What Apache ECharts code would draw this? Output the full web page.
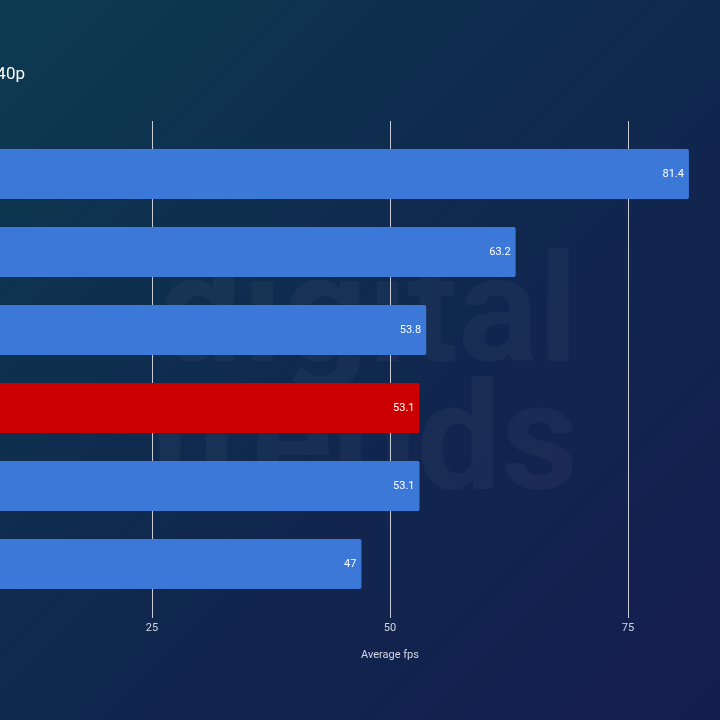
<!DOCTYPE html>
<html>
<head>
<meta charset="utf-8">
<script src="https://cdn.jsdelivr.net/npm/echarts@6/dist/echarts.min.js"></script>
<style>
html,body{margin:0;padding:0;width:720px;height:720px;overflow:hidden;}
#chart{width:720px;height:720px;}
</style>
</head>
<body>
<div id="chart"></div>
<script>
const titleText = '1440p';
const categories = ['GPU 1', 'GPU 2', 'GPU 3', 'GPU 4', 'GPU 5', 'GPU 6'];
const values = [81.4, 63.2, 53.8, 53.1, 53.1, 47];
const highlightIndex = 3;
const axisName = 'Average fps';
const xMin = 0, xMax = 100, xInterval = 25;

const chart = echarts.init(document.getElementById('chart'), null, {renderer: 'canvas'});
const font = 'Roboto, "Noto Sans", sans-serif';

chart.setOption({
  animation: false,
  backgroundColor: {
    type: 'linear', x: 0, y: 0, x2: 1, y2: 1,
    colorStops: [
      {offset: 0, color: '#0c3a50'},
      {offset: 0.5, color: '#10284e'},
      {offset: 1, color: '#151d50'}
    ]
  },
  graphic: [
    {
      type: 'text', right: 142, top: 248, z: -10, silent: true,
      style: {
        text: 'digital\ntrends',
        font: 'bold 150px Roboto, sans-serif',
        lineHeight: 128,
        fill: 'rgba(255,255,255,0.035)',
        textAlign: 'right'
      }
    },
    {
      type: 'text', x: 25, y: 66,
      style: {
        text: titleText,
        font: '17px ' + font,
        fill: '#ffffff',
        textAlign: 'right',
        textVerticalAlign: 'top'
      }
    }
  ],
  grid: [
    {left: -86, right: -146, top: 135, bottom: 117, outerBoundsMode: 'none'},
    {left: -86, right: -146, top: 121, bottom: 102, outerBoundsMode: 'none'}
  ],
  xAxis: [
    {
      type: 'value', gridIndex: 0, min: xMin, max: xMax, interval: xInterval,
      axisLine: {show: false}, axisTick: {show: false}, axisLabel: {show: false}, splitLine: {show: false}
    },
    {
      type: 'value', gridIndex: 1, min: xMin, max: xMax, interval: xInterval,
      axisLine: {show: false}, axisTick: {show: false},
      axisLabel: {show: true, color: '#d4d8e4', fontSize: 11, fontFamily: font, margin: 5},
      splitLine: {show: true, lineStyle: {color: '#c9ccd4', width: 1}},
      name: axisName, nameLocation: 'middle', nameGap: 32,
      nameTextStyle: {color: '#d4d8e4', fontSize: 11, fontFamily: font}
    }
  ],
  yAxis: [
    {
      type: 'category', gridIndex: 0, data: categories, inverse: true,
      axisLine: {show: false}, axisTick: {show: false}, axisLabel: {show: false}
    },
    {
      type: 'category', gridIndex: 1, data: categories, inverse: true,
      axisLine: {show: false}, axisTick: {show: false}, axisLabel: {show: false}
    }
  ],
  series: [
    {
      type: 'bar', xAxisIndex: 0, yAxisIndex: 0, barWidth: 50, z: 5,
      data: values.map((v, i) => ({
        value: v,
        itemStyle: {color: i === highlightIndex ? '#cc0000' : '#3c78d8', borderRadius: 2}
      })),
      label: {
        show: true, position: 'insideRight', distance: 5,
        color: '#ffffff', fontSize: 11, fontFamily: font
      }
    },
    {
      type: 'bar', xAxisIndex: 1, yAxisIndex: 1, data: [], silent: true
    }
  ]
});
</script>
</body>
</html>
